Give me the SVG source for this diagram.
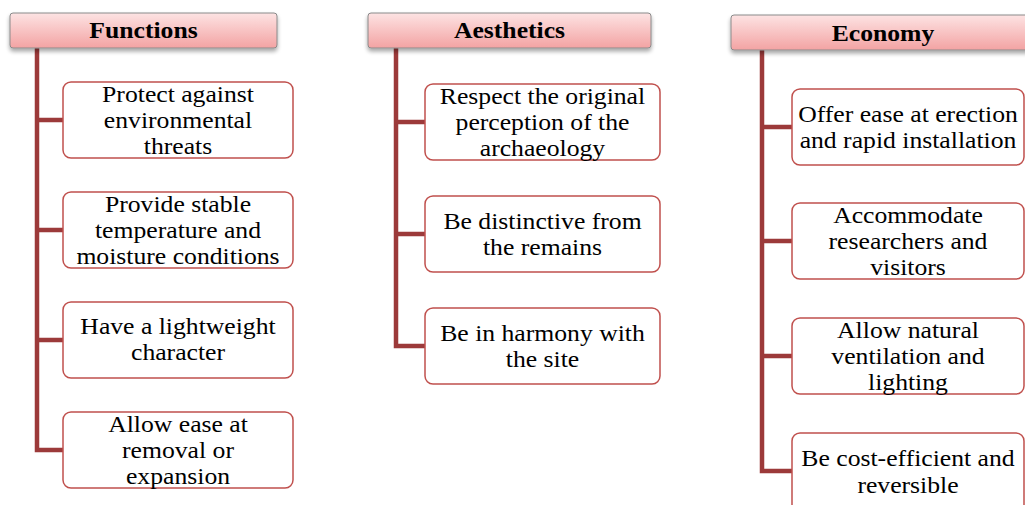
<svg xmlns="http://www.w3.org/2000/svg" width="1025" height="505" viewBox="0 0 1025 505">
<defs>
<linearGradient id="hg" x1="0" y1="0" x2="0" y2="1">
<stop offset="0" stop-color="#fde3e3"/>
<stop offset="1" stop-color="#f3a3a3"/>
</linearGradient>
<filter id="sh" x="-5%" y="-20%" width="110%" height="160%">
<feGaussianBlur in="SourceAlpha" stdDeviation="2"/>
<feOffset dx="0" dy="3"/>
<feComponentTransfer><feFuncA type="linear" slope="0.35"/></feComponentTransfer>
<feMerge><feMergeNode/><feMergeNode in="SourceGraphic"/></feMerge>
</filter>
</defs>
<style>
.hdr{fill:url(#hg);stroke:#8a8a8a;stroke-width:1;filter:url(#sh)}
.box{fill:#fff;stroke:#c0504d;stroke-width:1.5}
.con{fill:none;stroke:#9c3a3a;stroke-width:4.5;stroke-linejoin:miter}
</style>
<g id="connectors">
<path class="con" d="M37,48 V450 H63 M37,120 H63 M37,230 H63 M37,340 H63"/>
<path class="con" d="M396,48 V346 H425 M396,122 H425 M396,234 H425"/>
<path class="con" d="M762,50 V471 H792 M762,127 H792 M762,241 H792 M762,356 H792"/>
</g>
<g font-family="'Liberation Serif', serif" font-size="24" fill="#000" text-anchor="middle">
<g id="functions">
<rect class="hdr" x="10" y="13" width="267" height="35" rx="3"/>
<text transform="translate(143.5 38) scale(1.07 1)" font-weight="bold">Functions</text>
</g>
<g id="f1"><rect class="box" x="63" y="82" width="230" height="76" rx="8"/>
<text transform="translate(178 102) scale(1.07 1)">Protect against</text><text transform="translate(178 128) scale(1.07 1)">environmental</text><text transform="translate(178 154) scale(1.07 1)">threats</text></g>
<g id="f2"><rect class="box" x="63" y="192" width="230" height="76" rx="8"/>
<text transform="translate(178 212) scale(1.07 1)">Provide stable</text><text transform="translate(178 238) scale(1.07 1)">temperature and</text><text transform="translate(178 264) scale(1.07 1)">moisture conditions</text></g>
<g id="f3"><rect class="box" x="63" y="302" width="230" height="76" rx="8"/>
<text transform="translate(178 334) scale(1.07 1)">Have a lightweight</text><text transform="translate(178 360) scale(1.07 1)">character</text></g>
<g id="f4"><rect class="box" x="63" y="412" width="230" height="76" rx="8"/>
<text transform="translate(178 432) scale(1.07 1)">Allow ease at</text><text transform="translate(178 458) scale(1.07 1)">removal or</text><text transform="translate(178 484) scale(1.07 1)">expansion</text></g>
<g id="aesthetics">
<rect class="hdr" x="368" y="13" width="283" height="35" rx="3"/>
<text transform="translate(509.5 38) scale(1.07 1)" font-weight="bold">Aesthetics</text>
</g>
<g id="a1"><rect class="box" x="425" y="84" width="235" height="76" rx="8"/>
<text transform="translate(542.5 104) scale(1.07 1)">Respect the original</text><text transform="translate(542.5 130) scale(1.07 1)">perception of the</text><text transform="translate(542.5 156) scale(1.07 1)">archaeology</text></g>
<g id="a2"><rect class="box" x="425" y="196" width="235" height="76" rx="8"/>
<text transform="translate(542.5 229) scale(1.07 1)">Be distinctive from</text><text transform="translate(542.5 255) scale(1.07 1)">the remains</text></g>
<g id="a3"><rect class="box" x="425" y="308" width="235" height="76" rx="8"/>
<text transform="translate(542.5 341) scale(1.07 1)">Be in harmony with</text><text transform="translate(542.5 367) scale(1.07 1)">the site</text></g>
<g id="economy">
<rect class="hdr" x="731" y="15" width="304" height="35" rx="3"/>
<text transform="translate(883 41) scale(1.07 1)" font-weight="bold">Economy</text>
</g>
<g id="e1"><rect class="box" x="792" y="89" width="232" height="76" rx="8"/>
<text transform="translate(908 122) scale(1.07 1)">Offer ease at erection</text><text transform="translate(908 148) scale(1.07 1)">and rapid installation</text></g>
<g id="e2"><rect class="box" x="792" y="203" width="232" height="76" rx="8"/>
<text transform="translate(908 223) scale(1.07 1)">Accommodate</text><text transform="translate(908 249) scale(1.07 1)">researchers and</text><text transform="translate(908 275) scale(1.07 1)">visitors</text></g>
<g id="e3"><rect class="box" x="792" y="318" width="232" height="76" rx="8"/>
<text transform="translate(908 338) scale(1.07 1)">Allow natural</text><text transform="translate(908 364) scale(1.07 1)">ventilation and</text><text transform="translate(908 390) scale(1.07 1)">lighting</text></g>
<g id="e4"><rect class="box" x="792" y="433" width="232" height="80" rx="8"/>
<text transform="translate(908 466) scale(1.07 1)">Be cost-efficient and</text><text transform="translate(908 493) scale(1.07 1)">reversible</text></g>
</g>
</svg>
